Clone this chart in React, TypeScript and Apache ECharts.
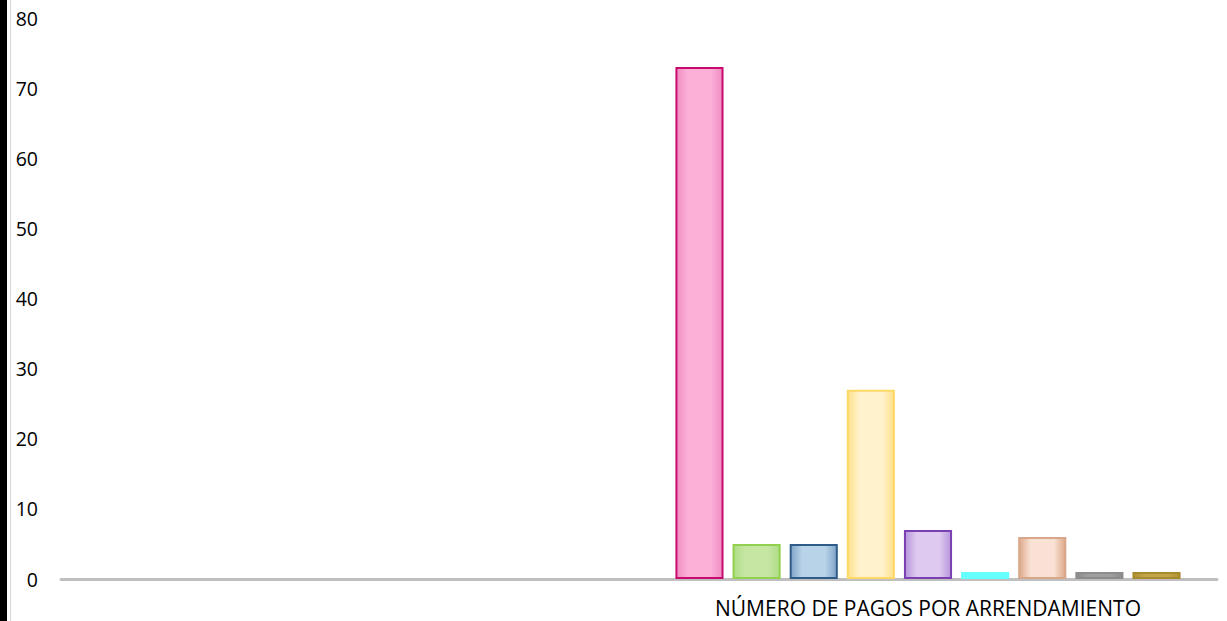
import React, { useEffect, useRef } from "react";
import * as echarts from "echarts";

const categories = ["", "NÚMERO DE PAGOS POR ARRENDAMIENTO"];
const seriesNames = ["A", "B", "C", "D", "E", "F", "G", "H", "I"];
const seriesValues = [73, 5, 5, 27, 7, 1, 6, 1, 1];
const borderColors = ["#C8096E", "#92D050", "#2F5B88", "#FFD966", "#7A3FB0", "#66FFFF", "#D8A688", "#8C8C8C", "#A8892E"];
const edgeColors = ["#EE8CC2", "#AEDC84", "#7FA4C8", "#FFE08A", "#B595DA", "#66FFFF", "#DDA98A", "#8A8A8A", "#B0922F"];
const centerColors = ["#FCB0D8", "#C6E6A4", "#B8D2E8", "#FFF2CC", "#DEC9F0", "#66FFFF", "#F9E2D5", "#A0A0A0", "#C2A644"];
const yTicks = [0, 10, 20, 30, 40, 50, 60, 70, 80];

export default function App() {
  const ref = useRef<HTMLDivElement>(null);
  useEffect(() => {
    const chart = echarts.init(ref.current!, null, { renderer: "svg" });
    const series = seriesNames.map((name, i) => ({
      name,
      type: "bar",
      barGap: "18.75%",
      barCategoryGap: "12.6%",
      data: [null, seriesValues[i]],
      itemStyle: {
        color: new echarts.graphic.LinearGradient(0, 0, 1, 0, [
          { offset: 0, color: edgeColors[i] },
          { offset: 0.25, color: centerColors[i] },
          { offset: 0.75, color: centerColors[i] },
          { offset: 1, color: edgeColors[i] },
        ]),
        borderColor: borderColors[i],
        borderWidth: 2,
      },
    }));
    chart.setOption({
      animation: false,
      backgroundColor: "#FFFFFF",
      grid: { left: 61, right: 10, top: 18, bottom: 42 },
      xAxis: {
        type: "category",
        data: categories,
        axisLine: { lineStyle: { color: "#BFBFBF", width: 3 } },
        axisTick: { show: false },
        axisLabel: {
          color: "#000000",
          fontFamily: "Open Sans",
          fontSize: 21,
          margin: 18,
        },
      },
      yAxis: {
        type: "value",
        min: yTicks[0],
        max: yTicks[yTicks.length - 1],
        interval: 10,
        axisLine: { show: false },
        axisTick: { show: false },
        splitLine: { show: false },
        axisLabel: {
          color: "#000000",
          fontFamily: "Open Sans",
          fontSize: 19.5,
          margin: 23,
        },
      },
      graphic: [
        { type: "rect", shape: { x: 0, y: 0, width: 7, height: 621 }, style: { fill: "#000000" } },
        { type: "line", shape: { x1: 10.5, y1: 0, x2: 10.5, y2: 621 }, style: { stroke: "#D9D9D9", lineWidth: 1 } },
      ],
      series,
    });
    return () => chart.dispose();
  }, []);
  return <div ref={ref} style={{ width: 1227, height: 621, position: "fixed", left: 0, top: 0 }} />;
}
